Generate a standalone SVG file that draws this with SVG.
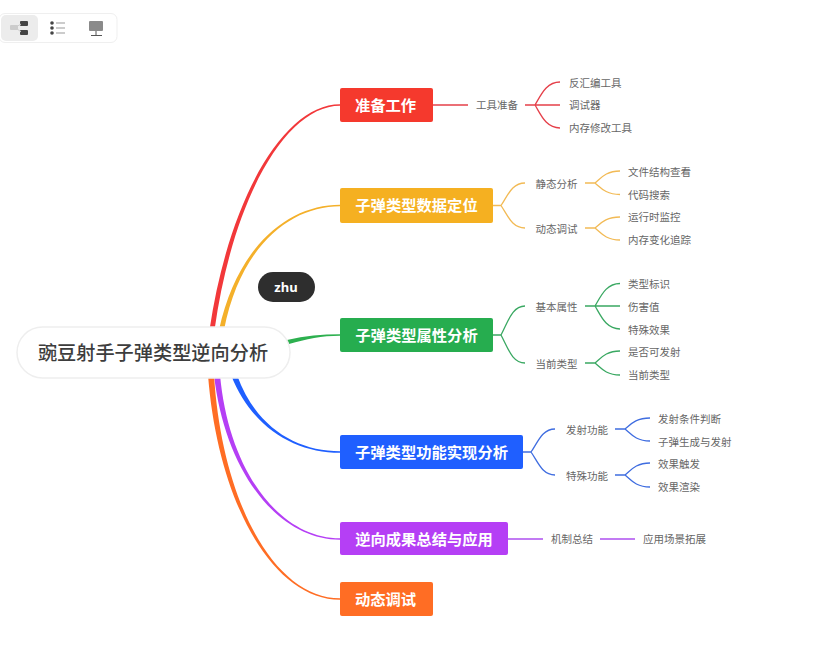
<svg xmlns="http://www.w3.org/2000/svg" width="830" height="646" viewBox="0 0 830 646">
<style>
text{font-family:"Noto Sans CJK SC","Liberation Sans",sans-serif}
.main{font-size:15.3px;font-weight:700;fill:#fff;text-anchor:middle}
.sub{font-size:10.5px;fill:#666}
.nb{rx:2px;ry:2px}
.c{fill:none;stroke-width:1.3}
.r{stroke:#e5404a}.y{stroke:#f2ba55}.g{stroke:#3aa862}.b{stroke:#3f6de0}.p{stroke:#ae50f0}
</style>
<rect width="830" height="646" fill="#fff"/>
<g id="toolbar">
<rect x="-1" y="13.500" width="118" height="29" rx="6" fill="#fff" stroke="#efefef"/>
<rect x="1" y="15" width="37" height="26" rx="5" fill="#ececec"/>
<rect x="10" y="25" width="8" height="5" rx="1" fill="#ccc"/>
<rect x="20" y="21" width="8" height="5" rx="1" fill="#444"/>
<rect x="20" y="30" width="8" height="5" rx="1" fill="#444"/>
<path d="M16,27 L21,24 M16,28 L21,32" stroke="#ccc" fill="none"/>
<circle cx="52" cy="23" r="1.800" fill="#444"/><circle cx="52" cy="28" r="1.800" fill="#444"/><circle cx="52" cy="33" r="1.800" fill="#444"/>
<rect x="56" y="22" width="9" height="2" fill="#ccc"/><rect x="56" y="27" width="9" height="2" fill="#ccc"/><rect x="56" y="32" width="9" height="2" fill="#ccc"/>
<rect x="89" y="21" width="14" height="10" rx="1" fill="#8a8a8a"/>
<path d="M96,31 V35 M91,35.500 H102" stroke="#555" fill="none"/>
</g>
<g id="connectors">
<path d="M209.500,330 C229,198 284,104.300 340,104.300 L340,105.700 C286,105.700 233,198 214.500,330 Z" fill="#f2383a"/>
<path d="M219,330 C237.500,245 289,204.800 340,204.800 L340,206.200 C291,206.200 240.500,245 224,330 Z" fill="#f4b02a"/>
<path d="M287,340 C305,336 322,334.300 340,334.300 L340,335.700 C322,335.700 306,339 289,344 Z" fill="#2db04f"/>
<path d="M231,375 C252,428 295,452.700 340,452.700 L340,451.300 C297,451.300 256,428 237,375 Z" fill="#1f5fff"/>
<path d="M214,375 C225,472 278,539.700 340,539.700 L340,538.300 C280,538.300 229,472 220,375 Z" fill="#b53ff5"/>
<path d="M208,375 C218,503 273,599.700 340,599.700 L340,598.300 C275,598.300 222,503 214,375 Z" fill="#ff6d24"/>
<path class="c r" d="M433,105 H468 M525,105 H560 M535,105 C541,95 546,82 560,82 M535,105 C541,115 546,128 560,128"/>
<path class="c y" d="M493,205.500 H501 C508,195 512,183 525,183 M501,205.500 C508,216 512,228 525,228 M585,183 H595 C601,178 606,171 620,171 M595,183 C601,188 606,194.500 620,194.500 M585,228 H595 C601,223 606,217 620,217 M595,228 C601,233 606,240 620,240"/>
<path class="c g" d="M493,335 H501 C508,322 512,306 525,306 M501,335 C508,348 512,363 525,363 M585,306 H620 M595,306 C601,296 606,283.500 620,283.500 M595,306 C601,316 606,329 620,329 M585,363 H595 C601,358 606,351 620,351 M595,363 C601,368 606,375 620,375"/>
<path class="c b" d="M523,452 H531 C538,442 542,429 555,429 M531,452 C538,462 542,475 555,475 M615,429 H625 C631,424 636,418 650,418 M625,429 C631,434 636,441 650,441 M615,475 H625 C631,470 636,463 650,463 M625,475 C631,480 636,487 650,487"/>
<path class="c p" d="M508,539 H543 M600,539 H635"/>
</g>
<g id="root">
<rect x="17" y="327" width="273" height="51" rx="25.500" fill="#fff" stroke="#eeeeee" stroke-width="1.500"/>
<text x="153" y="360" font-size="19.200" font-weight="500" fill="#3d3d3d" text-anchor="middle">豌豆射手子弹类型逆向分析</text>
</g>
<g id="tag-zhu">
<rect x="258" y="272" width="57" height="30" rx="15" fill="#2e2e2e"/>
<text x="286" y="292" font-size="13" font-weight="700" fill="#fff" text-anchor="middle" style="font-family:'Noto Sans','Liberation Sans',sans-serif">zhu</text>
</g>
<g id="n1"><rect class="nb" x="340" y="88" width="93" height="34" fill="#f5392d"/><text class="main" x="385.500" y="110.500">准备工作</text></g>
<g id="n2"><rect class="nb" x="340" y="188" width="153" height="35" fill="#f5b021"/><text class="main" x="416.500" y="211">子弹类型数据定位</text></g>
<g id="n3"><rect class="nb" x="340" y="318" width="153" height="34" fill="#26ad4f"/><text class="main" x="416.500" y="340.500">子弹类型属性分析</text></g>
<g id="n4"><rect class="nb" x="340" y="435" width="183" height="34" fill="#1f5fff"/><text class="main" x="431.500" y="458">子弹类型功能实现分析</text></g>
<g id="n5"><rect class="nb" x="340" y="522" width="168" height="33" fill="#b53ff5"/><text class="main" x="424" y="544.500">逆向成果总结与应用</text></g>
<g id="n6"><rect class="nb" x="340" y="582" width="93" height="34" fill="#ff6d24"/><text class="main" x="385.500" y="604.500">动态调试</text></g>
<g id="l-tools"><text class="sub" x="476" y="109">工具准备</text></g>
<g id="l-a1"><text class="sub" x="569" y="87">反汇编工具</text></g>
<g id="l-a2"><text class="sub" x="569" y="109">调试器</text></g>
<g id="l-a3"><text class="sub" x="569" y="132">内存修改工具</text></g>
<g id="l-static"><text class="sub" x="535.500" y="187.500">静态分析</text></g>
<g id="l-dyn"><text class="sub" x="535.500" y="233">动态调试</text></g>
<g id="l-b1"><text class="sub" x="628" y="176">文件结构查看</text></g>
<g id="l-b2"><text class="sub" x="628" y="199">代码搜索</text></g>
<g id="l-b3"><text class="sub" x="628" y="221">运行时监控</text></g>
<g id="l-b4"><text class="sub" x="628" y="244">内存变化追踪</text></g>
<g id="l-basic"><text class="sub" x="535.500" y="311">基本属性</text></g>
<g id="l-cur"><text class="sub" x="535.500" y="368">当前类型</text></g>
<g id="l-c1"><text class="sub" x="628" y="288">类型标识</text></g>
<g id="l-c2"><text class="sub" x="628" y="311">伤害值</text></g>
<g id="l-c3"><text class="sub" x="628" y="334">特殊效果</text></g>
<g id="l-c4"><text class="sub" x="628" y="356">是否可发射</text></g>
<g id="l-c5"><text class="sub" x="628" y="379">当前类型</text></g>
<g id="l-fire"><text class="sub" x="566" y="434">发射功能</text></g>
<g id="l-spec"><text class="sub" x="566" y="480">特殊功能</text></g>
<g id="l-d1"><text class="sub" x="658" y="423">发射条件判断</text></g>
<g id="l-d2"><text class="sub" x="658" y="446">子弹生成与发射</text></g>
<g id="l-d3"><text class="sub" x="658" y="468">效果触发</text></g>
<g id="l-d4"><text class="sub" x="658" y="491">效果渲染</text></g>
<g id="l-mech"><text class="sub" x="551" y="543">机制总结</text></g>
<g id="l-scene"><text class="sub" x="643" y="543">应用场景拓展</text></g>
</svg>
